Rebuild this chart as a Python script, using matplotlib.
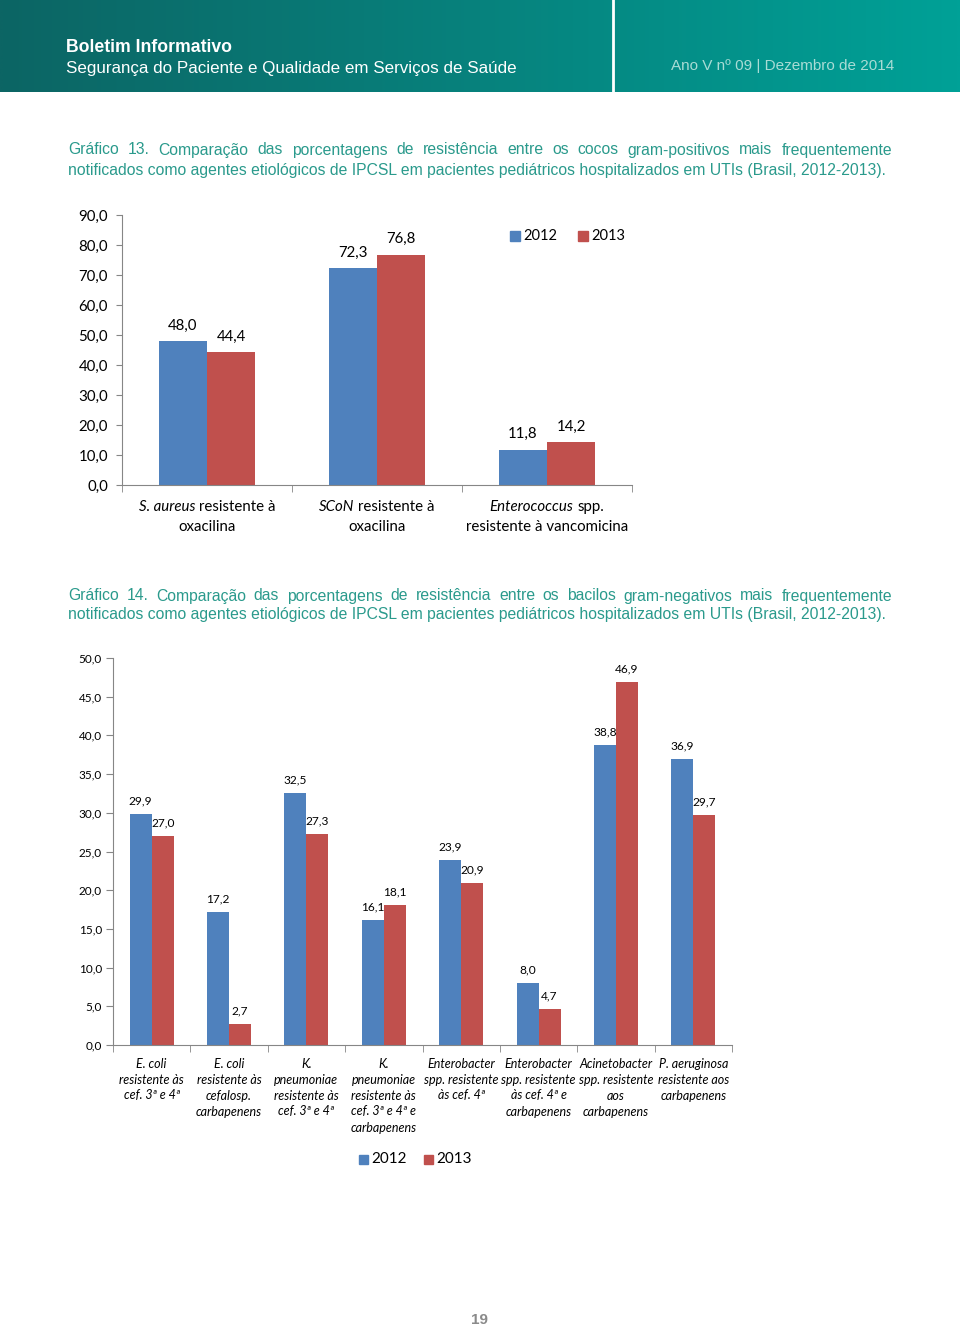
import matplotlib
matplotlib.use("Agg")
import matplotlib.pyplot as plt
import numpy as np
from matplotlib.patches import Rectangle
from matplotlib.colors import LinearSegmentedColormap

# ---------------- data ----------------
cats1 = [[("S. aureus", "italic"), ("resistente à", "normal")],
         [("SCoN", "italic"), ("resistente à", "normal")],
         [("Enterococcus", "italic"), ("spp.", "normal")]]
cats1_line2 = ["oxacilina", "oxacilina", "resistente à vancomicina"]
v1_2012 = [48.0, 72.3, 11.8]
v1_2013 = [44.4, 76.8, 14.2]
yticks1 = [0, 10, 20, 30, 40, 50, 60, 70, 80, 90]

cats2 = ["E. coli\nresistente às\ncef. 3ª e 4ª",
         "E. coli\nresistente às\ncefalosp.\ncarbapenens",
         "K.\npneumoniae\nresistente às\ncef. 3ª e 4ª",
         "K.\npneumoniae\nresistente às\ncef. 3ª e 4ª e\ncarbapenens",
         "Enterobacter\nspp. resistente\nàs cef. 4ª",
         "Enterobacter\nspp. resistente\nàs cef. 4ª e\ncarbapenens",
         "Acinetobacter\nspp. resistente\naos\ncarbapenens",
         "P. aeruginosa\nresistente aos\ncarbapenens"]
v2_2012 = [29.9, 17.2, 32.5, 16.1, 23.9, 8.0, 38.8, 36.9]
v2_2013 = [27.0, 2.7, 27.3, 18.1, 20.9, 4.7, 46.9, 29.7]
yticks2 = [0, 5, 10, 15, 20, 25, 30, 35, 40, 45, 50]
series = ["2012", "2013"]

cap13 = ["Gráfico 13. Comparação das porcentagens de resistência entre os cocos gram-positivos mais frequentemente",
         "notificados como agentes etiológicos de IPCSL em pacientes pediátricos hospitalizados em UTIs (Brasil, 2012-2013)."]
cap14 = ["Gráfico 14. Comparação das porcentagens de resistência entre os bacilos gram-negativos mais frequentemente",
         "notificados como agentes etiológicos de IPCSL em pacientes pediátricos hospitalizados em UTIs (Brasil, 2012-2013)."]

BLUE = "#4F81BD"
RED = "#C0504D"
GRAY = "#868686"
TEAL = "#2a9a8c"
CHART_FONT = ["Lato", "DejaVu Sans"]
CAP_FONT = ["Liberation Sans Narrow", "Liberation Sans", "DejaVu Sans"]

W, H = 960, 1329
fig = plt.figure(figsize=(W / 100, H / 100), dpi=100)
fig.patch.set_facecolor("white")
renderer = fig.canvas.get_renderer()


def fx(x):
    return x / W


def fy(y):
    return 1 - y / H


def twidth(t):
    return t.get_window_extent(renderer).width


def fit_text(s, x0, x1, y, **kw):
    t = fig.text(fx(x0), fy(y), s, fontsize=10, va="center", ha="left", **kw)
    w = twidth(t)
    t.set_fontsize(10 * (x1 - x0) / w)
    return t


def justify(s, x0, x1, y, fs, **kw):
    words = s.split()
    ts = [fig.text(0, 0, wd, fontsize=fs, va="center", ha="left", **kw) for wd in words]
    ws = [twidth(t) for t in ts]
    gap = (x1 - x0 - sum(ws)) / (len(words) - 1)
    x = x0
    for t, wd in zip(ts, ws):
        t.set_position((fx(x), fy(y)))
        x += wd + gap


def caption(lines, y0, dy):
    t = fig.text(0, 0, lines[1], fontsize=10, family=CAP_FONT, color=TEAL)
    fs = 10 * 822 / twidth(t)
    t.remove()
    justify(lines[0], 68, 892, y0, fs, family=CAP_FONT, color=TEAL)
    fig.text(fx(68), fy(y0 + dy), lines[1], fontsize=fs, family=CAP_FONT,
             color=TEAL, va="center", ha="left")


# ---------------- header ----------------
axh = fig.add_axes([0, fy(92), 1, 92 / H])
cmap = LinearSegmentedColormap.from_list("hdr", ["#0c6564", "#07827d", "#00a197"])
grad = np.linspace(0, 1, 512).reshape(1, -1)
axh.imshow(grad, aspect="auto", cmap=cmap, extent=[0, W, 92, 0])
axh.plot([613, 613], [0, 92], color="white", lw=2)
axh.set_xlim(0, W)
axh.set_ylim(92, 0)
axh.axis("off")

fit_text("Boletim Informativo", 66, 231, 48, family=["Liberation Sans"], weight="bold", color="white")
fit_text("Segurança do Paciente e Qualidade em Serviços de Saúde", 66, 518, 69,
         family=["Liberation Sans"], color="white")
fit_text("Ano V nº 09 | Dezembro de 2014", 671, 895, 66, family=["Liberation Sans"], color="#a9dcd5")

caption(cap13, 150, 20)
caption(cap14, 596, 19)


def fmt(v):
    return f"{v:.1f}".replace(".", ",")


FS1 = 10.8

# ---------------- chart 1 ----------------
ax1 = fig.add_axes([fx(122), fy(485), (632 - 122) / W, (485 - 215) / H])
x1 = np.arange(len(v1_2012))
bw1 = 48 / 170
ax1.bar(x1 - bw1 / 2, v1_2012, bw1, color=BLUE)
ax1.bar(x1 + bw1 / 2, v1_2013, bw1, color=RED)
ax1.set_xlim(-0.5, len(x1) - 0.5)
ax1.set_ylim(0, 90)
ax1.set_yticks(yticks1)
ax1.set_yticklabels([fmt(v) for v in yticks1], family=CHART_FONT, fontsize=FS1)
ax1.set_xticks(x1)
ax1.set_xticklabels([])
ax1.set_xticks(np.arange(-0.5, len(x1)), minor=True)
ax1.tick_params(axis="x", which="major", length=0)
ax1.tick_params(axis="x", which="minor", length=5, color=GRAY, direction="out")
ax1.tick_params(axis="y", length=4, color=GRAY, direction="out", pad=6)
for s in ["top", "right"]:
    ax1.spines[s].set_visible(False)
for s in ["left", "bottom"]:
    ax1.spines[s].set_color(GRAY)
for xs, vs in [(x1 - bw1 / 2, v1_2012), (x1 + bw1 / 2, v1_2013)]:
    for xx, vv in zip(xs, vs):
        ax1.annotate(fmt(vv), (xx, vv), xytext=(0, 6), textcoords="offset points",
                     ha="center", va="bottom", family=CHART_FONT, fontsize=FS1)

# category labels with mixed italics
space_t = fig.text(0, 0, "x x", fontsize=FS1, family=CHART_FONT)
nosp_t = fig.text(0, 0, "xx", fontsize=FS1, family=CHART_FONT)
SP = twidth(space_t) - twidth(nosp_t)
space_t.remove()
nosp_t.remove()
for i, segs in enumerate(cats1):
    cx = ax1.transData.transform((i, 0))[0]
    ts, ws = [], []
    for s, st in segs:
        t = fig.text(0, 0, s, fontsize=FS1, family=CHART_FONT, style=st, va="center", ha="left")
        ts.append(t)
        ws.append(twidth(t))
    total = sum(ws) + SP * (len(ws) - 1)
    x = cx - total / 2
    for t, wd in zip(ts, ws):
        t.set_position((x / W, fy(507)))
        x += wd + SP
    fig.text(cx / W, fy(527), cats1_line2[i], fontsize=FS1, family=CHART_FONT,
             va="center", ha="center")

# legend chart 1
for xs, col, lab in [(510, BLUE, series[0]), (578, RED, series[1])]:
    fig.patches.append(Rectangle((fx(xs), fy(241)), 10 / W, 10 / H, color=col,
                                 transform=fig.transFigure, figure=fig))
    fig.text(fx(xs + 13), fy(236), lab, fontsize=10.5, family=CHART_FONT, va="center", ha="left")

# ---------------- chart 2 ----------------
ax2 = fig.add_axes([fx(113), fy(1045), (732 - 113) / W, (1045 - 658) / H])
x2 = np.arange(len(v2_2012))
bw2 = 22 / 77.4
ax2.bar(x2 - bw2 / 2, v2_2012, bw2, color=BLUE)
ax2.bar(x2 + bw2 / 2, v2_2013, bw2, color=RED)
ax2.set_xlim(-0.5, len(x2) - 0.5)
ax2.set_ylim(0, 50)
ax2.set_yticks(yticks2)
ax2.set_yticklabels([fmt(v) for v in yticks2], family=CHART_FONT, fontsize=8.5)
ax2.set_xticks(x2)
ax2.set_xticklabels(cats2, family=CHART_FONT, style="italic", fontsize=9.0, linespacing=1.4)
ax2.set_xticks(np.arange(-0.5, len(x2)), minor=True)
ax2.tick_params(axis="x", which="major", length=0, pad=9)
ax2.tick_params(axis="x", which="minor", length=5, color=GRAY, direction="out")
ax2.tick_params(axis="y", length=5, color=GRAY, direction="out", pad=3)
for s in ["top", "right"]:
    ax2.spines[s].set_visible(False)
for s in ["left", "bottom"]:
    ax2.spines[s].set_color(GRAY)
for xs, vs in [(x2 - bw2 / 2, v2_2012), (x2 + bw2 / 2, v2_2013)]:
    for xx, vv in zip(xs, vs):
        ax2.annotate(fmt(vv), (xx, vv), xytext=(0, 5.5), textcoords="offset points",
                     ha="center", va="bottom", family=CHART_FONT, fontsize=8.6)

# legend chart 2
for xs, col, lab in [(359, BLUE, series[0]), (424, RED, series[1])]:
    fig.patches.append(Rectangle((fx(xs), fy(1164)), 9 / W, 9 / H, color=col,
                                 transform=fig.transFigure, figure=fig))
    fig.text(fx(xs + 12), fy(1159), lab, fontsize=11, family=CHART_FONT, va="center", ha="left")

# page number
fig.text(0.5, fy(1320), "19", fontsize=11, weight="bold", color="#8a8a8a",
         family=["Liberation Sans"], ha="center", va="center")

fig.savefig("out.png", dpi=100)
